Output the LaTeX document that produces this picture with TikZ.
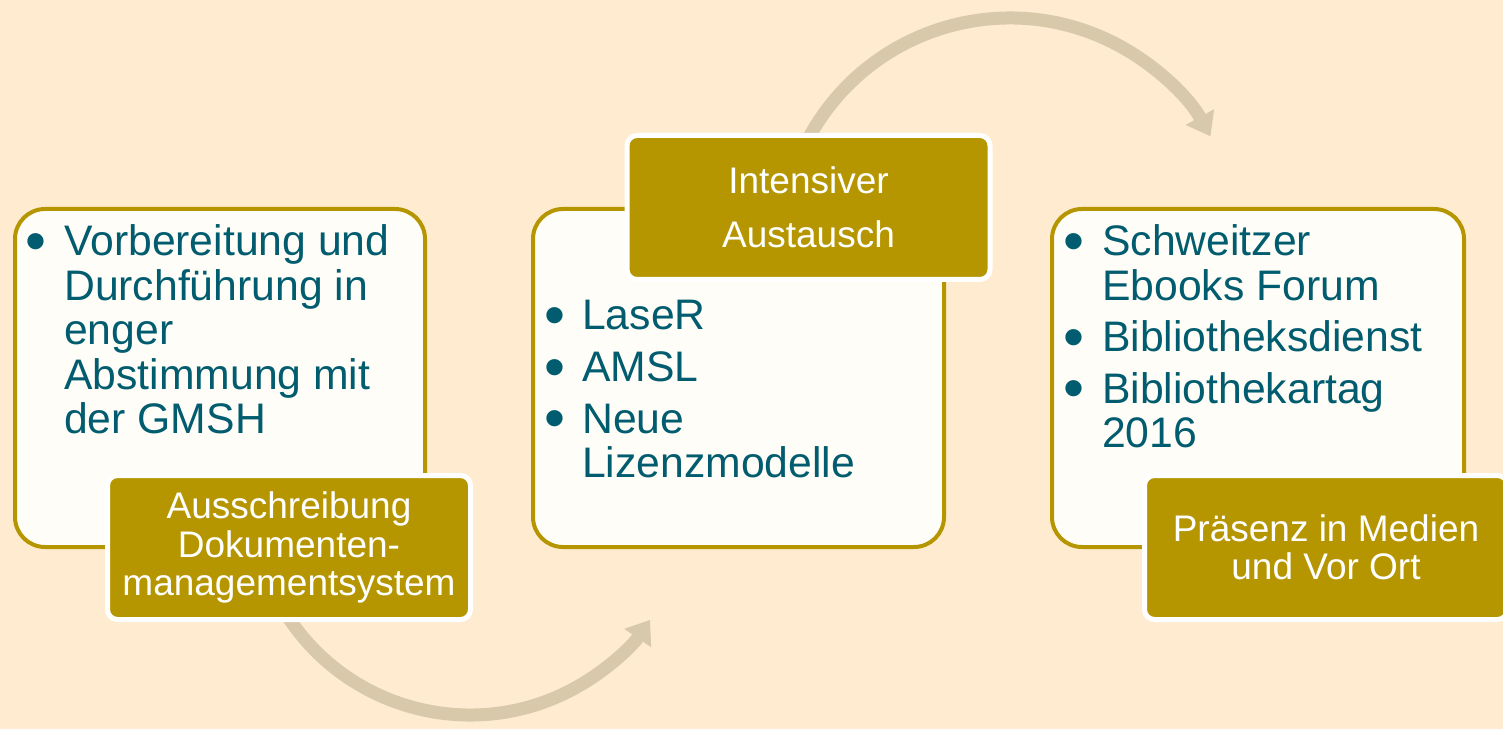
\documentclass[tikz,border=0pt]{standalone}
\usepackage{fontspec}
\setmainfont{Liberation Sans}
\usetikzlibrary{arrows.meta,calc}
\definecolor{bgc}{HTML}{FFEBCF}
\definecolor{goldc}{HTML}{B59600}
\definecolor{tealc}{HTML}{005C6E}
\definecolor{arrowc}{HTML}{D8C9AA}
\definecolor{boxc}{HTML}{FFFDF7}
\tikzset{
  mainbox/.style={draw=goldc,line width=4pt,fill=boxc,rounded corners=30pt},
  labelbox/.style={draw=white,line width=5pt,fill=goldc,rounded corners=10pt,
    text=white,align=center,inner sep=0pt,minimum width=363pt,minimum height=144pt},
  listtext/.style={anchor=base west,inner sep=0pt,text=tealc,font=\fontsize{42.7}{44.5}\selectfont},
  flow/.style={draw=arrowc,line width=13pt,-{Triangle[width=31pt,length=22pt]}},
}
\newcommand\bul{\smash{\raisebox{-5.5pt}{\scalebox{1.4}{\textbullet}}}}
\begin{document}
\begin{tikzpicture}[x=1pt,y=1pt]
\useasboundingbox (0,0) rectangle (1503,729);
\fill[bgc] (0,0) rectangle (1503,729);
% arrows
\coordinate (c1) at (470,232);
\coordinate (c2) at (1010,482);
\coordinate (a0) at ($(c1)+(210:218)$);
\coordinate (b0) at ($(c2)+(152:229)$);
\draw[flow] (a0) arc[start angle=210,end angle=325.7,radius=218];
\draw[flow] (b0) arc[start angle=152,end angle=28.9,radius=229];
% main boxes
\draw[mainbox] (15,520) rectangle (425,182);
\draw[mainbox] (533,520) rectangle (944,182);
\draw[mainbox] (1052,520) rectangle (1464,182);
% list texts
\node[listtext] (t1) at (25,473) {\begin{tabular}[t]{@{}p{39pt}@{}l@{}}
\bul & Vorbereitung und\\
 & Durchführung in\\
 & enger\\
 & Abstimmung mit\\
 & der GMSH
\end{tabular}};
\node[listtext] (t2) at (544,399) {\begin{tabular}[t]{@{}p{38pt}@{}l@{}}
\bul & LaseR\\[7pt]
\bul & AMSL\\[7pt]
\bul & Neue\\
 & Lizenzmodelle
\end{tabular}};
\node[listtext] (t3) at (1063,473) {\begin{tabular}[t]{@{}p{39pt}@{}l@{}}
\bul & Schweitzer\\
 & Ebooks Forum\\[7pt]
\bul & Bibliotheksdienst\\[7pt]
\bul & Bibliothekartag\\
 & 2016
\end{tabular}};
% labels
\node[labelbox,font=\fontsize{37}{38.5}\selectfont] (l1) at (289,181.5)
  {Ausschreibung\\Dokumenten-\\managementsystem};
\node[labelbox,font=\fontsize{37}{54}\selectfont] (l2) at (808.5,521.5)
  {Intensiver\\Austausch};
\node[labelbox,font=\fontsize{37}{38}\selectfont] (l3) at (1326,181.5)
  {Präsenz in Medien\\und Vor Ort};
\end{tikzpicture}
\end{document}
